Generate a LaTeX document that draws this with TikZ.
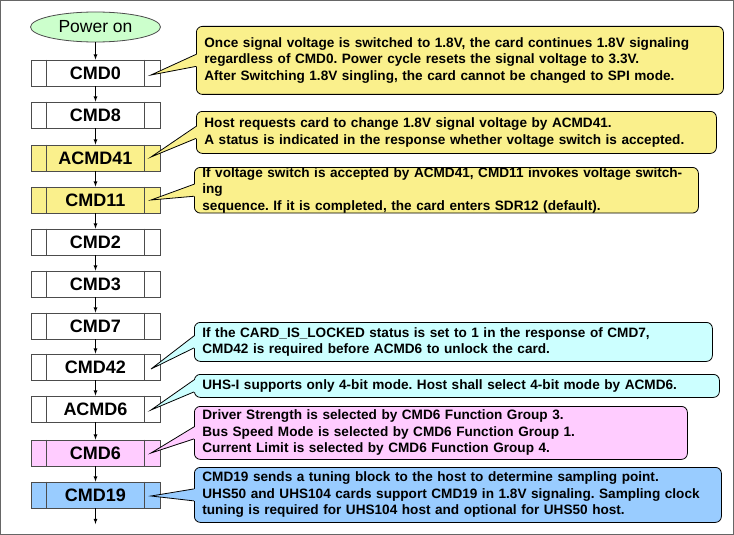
\documentclass[tikz,border=0pt]{standalone}
\usepackage{fontspec}
\setmainfont{Liberation Sans}
\usetikzlibrary{shapes.geometric,calc}
\frenchspacing
\definecolor{cy}{HTML}{FAF08C}
\definecolor{cc}{HTML}{CCFFFF}
\definecolor{cp}{HTML}{FFCCFF}
\definecolor{cb}{HTML}{99CCFF}
\definecolor{cg}{HTML}{CCFFCC}
\tikzset{
 cmd/.style={draw=black!70,line width=0.8pt,minimum width=129pt,minimum height=26pt,inner sep=0pt,font=\bfseries\fontsize{18}{20}\selectfont},
 note/.style={draw=black,line width=0.8pt,rounded corners=6pt,anchor=north west,align=left,inner xsep=8pt,inner ysep=0pt,font=\bfseries\fontsize{13.6}{16.5}\selectfont},
 arr/.style={-latex,line width=0.8pt},
}
\newcommand\cmdbox[4]{% name, y, fill, text
 \node[cmd,fill=#3] (#1) at (95.5,#2) {#4};
 \draw[black!70,line width=0.8pt] ($(#1.north west)+(16,0)$) -- ($(#1.south west)+(16,0)$)
   ($(#1.north east)+(-16,0)$) -- ($(#1.south east)+(-16,0)$);}
\newcommand\callout[8]{% name,x1,y1,x2,y2,fill,tipy,text
 \pgfmathsetmacro\ww{#4-#2}\pgfmathsetmacro\hh{#5-#3}
 \node[note,fill=#6,minimum width=\ww pt,minimum height=\hh pt,text width=\ww pt-16pt] (#1) at (#2,#3) {#8};
 \coordinate (#1t) at (151,#7);
 \fill[#6] ($(#1.west)+(1,6)$) -- (#1t) -- ($(#1.west)+(1,-6)$) -- cycle;
 \draw[line width=0.8pt] ($(#1.west)+(0,6)$) -- (#1t) -- ($(#1.west)+(0,-6)$);}
\begin{document}
\begin{tikzpicture}[x=1pt,y=-1pt]
\draw[black!60,line width=1pt,fill=white] (0.5,0.5) rectangle (733.5,534.5);
\useasboundingbox (0,0) rectangle (734,535);
\node[ellipse,draw=black!70,line width=0.8pt,fill=cg,minimum width=130pt,minimum height=30pt,inner sep=0pt,font=\fontsize{17.5}{19}\selectfont] (pw) at (95.5,27) {Power on};
\cmdbox{c0}{73}{white}{CMD0}
\cmdbox{c8}{115}{white}{CMD8}
\cmdbox{a41}{158}{cy}{ACMD41}
\cmdbox{c11}{200}{cy}{CMD11}
\cmdbox{c2}{242}{white}{CMD2}
\cmdbox{c3}{284}{white}{CMD3}
\cmdbox{c7}{326}{white}{CMD7}
\cmdbox{c42}{367}{white}{CMD42}
\cmdbox{a6}{409}{white}{ACMD6}
\cmdbox{c6}{453}{cp}{CMD6}
\cmdbox{c19}{495}{cb}{CMD19}
\coordinate (end) at (95.5,524);
\foreach \a/\b in {pw/c0,c0/c8,c8/a41,a41/c11,c11/c2,c2/c3,c3/c7,c7/c42,c42/a6,a6/c6,c6/c19,c19/end}
 \draw[arr] (\a) -- (\b);
\callout{n1}{196}{26}{723}{94}{cy}{75}{Once signal voltage is switched to 1.8V, the card continues 1.8V signaling\\regardless of CMD0. Power cycle resets the signal voltage to 3.3V.\\After Switching 1.8V singling, the card cannot be changed to SPI mode.}
\callout{n2}{196}{111}{716}{153}{cy}{157}{Host requests card to change 1.8V signal voltage by ACMD41.\\A status is indicated in the response whether voltage switch is accepted.}
\callout{n3}{194}{167}{698}{211}{cy}{200}{If voltage switch is accepted by ACMD41, CMD11 invokes voltage switching\\sequence. If it is completed, the card enters SDR12 (default).}
\callout{n4}{194}{322}{712}{361}{cc}{369}{If the CARD\_IS\_LOCKED status is set to 1 in the response of CMD7,\\CMD42 is required before ACMD6 to unlock the card.}
\callout{n5}{194}{374}{719}{397}{cc}{410}{UHS-I supports only 4-bit mode. Host shall select 4-bit mode by ACMD6.}
\callout{n6}{194}{406}{687}{459}{cp}{453}{Driver Strength is selected by CMD6 Function Group 3.\\Bus Speed Mode is selected by CMD6 Function Group 1.\\Current Limit is selected by CMD6 Function Group 4.}
\callout{n7}{194}{467}{721}{522}{cb}{496}{CMD19 sends a tuning block to the host to determine sampling point.\\UHS50 and UHS104 cards support CMD19 in 1.8V signaling. Sampling clock\\tuning is required for UHS104 host and optional for UHS50 host.}
\end{tikzpicture}
\end{document}
